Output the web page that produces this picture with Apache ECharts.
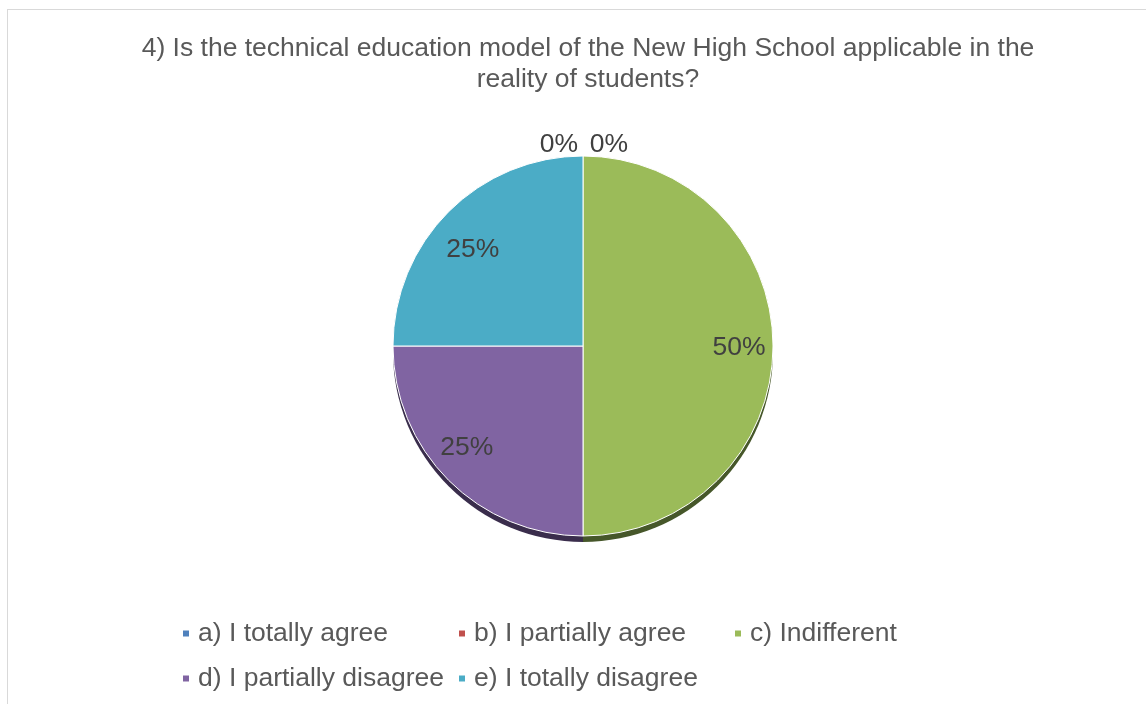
<!DOCTYPE html>
<html>
<head>
<meta charset="utf-8">
<script src="https://cdn.jsdelivr.net/npm/echarts@6/dist/echarts.min.js"></script>
<style>
html,body{margin:0;padding:0;background:#fff;}
#frame{position:absolute;left:7px;top:9px;width:1160px;height:720px;border:1px solid #d9d9d9;box-sizing:border-box;}
#chart{position:absolute;left:0;top:0;width:1146px;height:704px;}
</style>
</head>
<body>
<div id="frame"></div>
<div id="chart"></div>
<script>
const titleText = '4) Is the technical education model of the New High School applicable in the\nreality of students?';
const categories = ['a) I totally agree', 'b) I partially agree', 'c) Indifferent', 'd) I partially disagree', 'e) I totally disagree'];
const percentValues = [0, 0, 50, 25, 25];
const sliceColors = ['#4F81BD', '#C0504D', '#9BBB59', '#8064A2', '#4BACC6'];
const shadowColors = ['#2a4466', '#662a29', '#46572a', '#3a2d4c', '#235663'];

const center = ['583', '346'];
const R = 190;

// label nudges (style), one per slice
const labelNudge = [[0, 0], [50, 0], [0, 2], [-6, -9], [0, 14]];

// legend grid layout (3 columns)
const legendCols = 3, legendLeft = 176, legendColW = 276, legendTop = 615, legendRowH = 45;

const mainData = categories.map((n, i) => ({
  name: n, value: percentValues[i],
  itemStyle: { color: sliceColors[i] }
}));
const shadowData = categories.map((n, i) => ({
  name: n, value: percentValues[i],
  itemStyle: { color: shadowColors[i] }
}));
const labelData = categories.map((n, i) => {
  const d = { name: n, value: percentValues[i], label: { offset: labelNudge[i] } };
  if (percentValues[i] === 0) {
    d.label.position = 'outside';
    d.labelLine = { show: false, length: 11, length2: 0 };
  }
  return d;
});

const legends = categories.map((n, i) => ({
  left: legendLeft + (i % legendCols) * legendColW,
  top: legendTop + Math.floor(i / legendCols) * legendRowH,
  orient: 'horizontal',
  itemWidth: 8, itemHeight: 8,
  icon: 'rect',
  textStyle: { fontFamily: 'Liberation Sans', fontSize: 26.5, color: '#595959', padding: [0, 0, 0, 3] },
  data: [n],
  selectedMode: false
}));

const chart = echarts.init(document.getElementById('chart'), null, { renderer: 'canvas' });
chart.setOption({
  animation: false,
  title: {
    text: titleText,
    left: 583, top: 28, textAlign: 'center',
    textStyle: { fontFamily: 'Liberation Sans', fontSize: 26.5, fontWeight: 'normal', color: '#595959', lineHeight: 31 }
  },
  legend: legends,
  series: [
    {
      name: 'main', type: 'pie', z: 3,
      center: center, radius: R,
      startAngle: 90, clockwise: true,
      avoidLabelOverlap: false,
      label: { show: false }, labelLine: { show: false },
      itemStyle: { borderColor: '#ffffff', borderWidth: 1 },
      emphasis: { disabled: true },
      data: mainData
    },
    {
      name: 'shadow', type: 'pie', z: 1, silent: true,
      center: ['583', '352'], radius: R,
      startAngle: 90, clockwise: true,
      label: { show: false }, labelLine: { show: false },
      itemStyle: { borderWidth: 0 },
      emphasis: { disabled: true },
      data: shadowData
    },
    {
      name: 'labels', type: 'pie', z: 5, silent: true,
      center: center, radius: [116, R],
      startAngle: 90, clockwise: true,
      avoidLabelOverlap: false,
      itemStyle: { color: 'rgba(0,0,0,0)', borderWidth: 0 },
      label: {
        show: true, position: 'inside',
        formatter: '{c}%',
        fontFamily: 'Liberation Sans', fontSize: 26.5, color: '#404040'
      },
      labelLine: { show: false },
      emphasis: { disabled: true },
      data: labelData
    }
  ]
});
</script>
</body>
</html>
